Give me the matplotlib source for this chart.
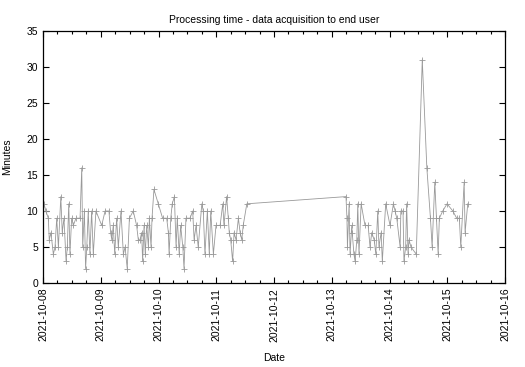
import matplotlib
matplotlib.use("Agg")
import matplotlib.pyplot as plt
import matplotlib.dates as mdates
import pandas as pd

plt.rcParams["font.family"] = ["Liberation Sans", "DejaVu Sans"]

# hours since 2021-10-08 00:00 and processing time in minutes
hours_a = [0.4, 1.2, 2.2, 2.6, 3.3, 4.3, 5.0, 5.7, 6.4, 7.4, 8.0, 8.7, 9.6, 10.1,
           10.7, 11.2, 11.9, 12.6, 13.7, 15.4, 16.1, 16.5, 17.2, 17.7, 18.2, 18.8,
           19.5, 20.2, 20.9, 22.0, 24.4, 25.8, 27.4, 28.1, 28.6, 29.2, 29.8, 30.6,
           31.3, 32.4, 33.4, 34.1, 35.0, 35.9, 37.5, 38.9, 39.6, 40.3, 41.0, 41.4,
           42.0, 42.5, 43.1, 43.8, 44.2, 44.9, 45.3, 46.1, 47.9, 49.7, 51.4, 52.1,
           52.4, 53.1, 53.7, 54.6, 55.3, 55.8, 56.6, 57.2, 58.1, 58.6, 59.4, 61.1,
           62.2, 62.8, 63.6, 64.5, 66.0, 66.6, 67.3, 68.3, 69.1, 69.7, 70.8, 71.9,
           73.6, 74.7, 75.2, 76.3, 77.0, 77.4, 78.0, 78.8, 79.4, 80.2, 81.2, 81.9,
           82.6, 83.2, 84.7]
minutes_a = [11, 10, 9, 6, 7, 4, 5, 9, 5, 12, 7, 9, 3, 5,
             11, 4, 9, 8, 9, 9, 16, 5, 10, 2, 5, 10,
             4, 10, 4, 10, 8, 10, 10, 7, 6, 8, 4, 9,
             5, 10, 4, 5, 2, 9, 10, 8, 6, 6, 7, 3,
             8, 4, 8, 5, 9, 5, 9, 13, 11, 9, 9, 7,
             4, 9, 11, 12, 5, 9, 4, 8, 5, 2, 9, 9,
             10, 6, 8, 5, 11, 10, 4, 10, 4, 10, 4, 8,
             8, 11, 8, 12, 9, 7, 6, 3, 7, 6, 9, 7,
             6, 8, 11]

hours_b = [125.9, 126.3, 126.5, 127.2, 127.6, 128.3, 128.5, 129.2, 129.7, 130.4,
           130.8, 131.3, 132.2, 133.8, 135.1, 135.9, 136.6, 137.6, 138.3, 139.1,
           139.6, 140.5, 141.0, 142.4, 144.2, 145.6, 146.3, 147.0, 148.4, 148.7,
           149.6, 150.0, 150.7, 151.1, 151.7, 152.1, 152.9, 155.1, 157.6, 159.5,
           161.0, 161.7, 162.8, 163.5, 164.2, 164.7, 166.1, 167.9, 170.3, 171.9,
           173.0, 173.6, 175.0, 175.4, 176.5]
minutes_b = [12, 9, 5, 11, 4, 8, 7, 4, 3, 6,
             11, 4, 11, 8, 8, 5, 7, 6, 4, 10,
             5, 7, 3, 11, 8, 11, 10, 9, 5, 10,
             10, 3, 5, 11, 4, 6, 5, 4, 31, 16,
             9, 5, 14, 9, 4, 9, 10, 11, 10, 9,
             9, 5, 14, 7, 11]

start = pd.Timestamp("2021-10-08")
times = start + pd.to_timedelta(hours_a + hours_b, unit="h")
values = minutes_a + minutes_b

fig = plt.figure(figsize=(5.25, 3.67), dpi=100)
ax = fig.add_axes([0.0819, 0.2289, 0.8801, 0.6866])

ax.plot(times, values, color="#999999", lw=0.6, marker="+", ms=5, mew=0.6)

ax.set_xlim(pd.Timestamp("2021-10-08"), pd.Timestamp("2021-10-16"))
ax.set_ylim(0, 35)
ax.set_yticks(range(0, 36, 5))
ax.xaxis.set_major_locator(mdates.DayLocator())
ax.xaxis.set_minor_locator(mdates.HourLocator(byhour=[6, 12, 18]))
ax.xaxis.set_major_formatter(mdates.DateFormatter("%Y-%m-%d"))

ax.tick_params(which="both", direction="in", top=True, right=True, labelsize=7.5, width=0.8)
ax.tick_params(which="major", length=4)
ax.tick_params(which="minor", length=2.5)
for label in ax.get_xticklabels():
    label.set_rotation(90)

for spine in ax.spines.values():
    spine.set_linewidth(0.9)

ax.set_title("Processing time - data acquisition to end user", fontsize=7.5, pad=6)
ax.set_xlabel("Date", fontsize=7.5, labelpad=8)
ax.set_ylabel("Minutes", fontsize=7.5, labelpad=10)

fig.savefig("out.png", dpi=100)
